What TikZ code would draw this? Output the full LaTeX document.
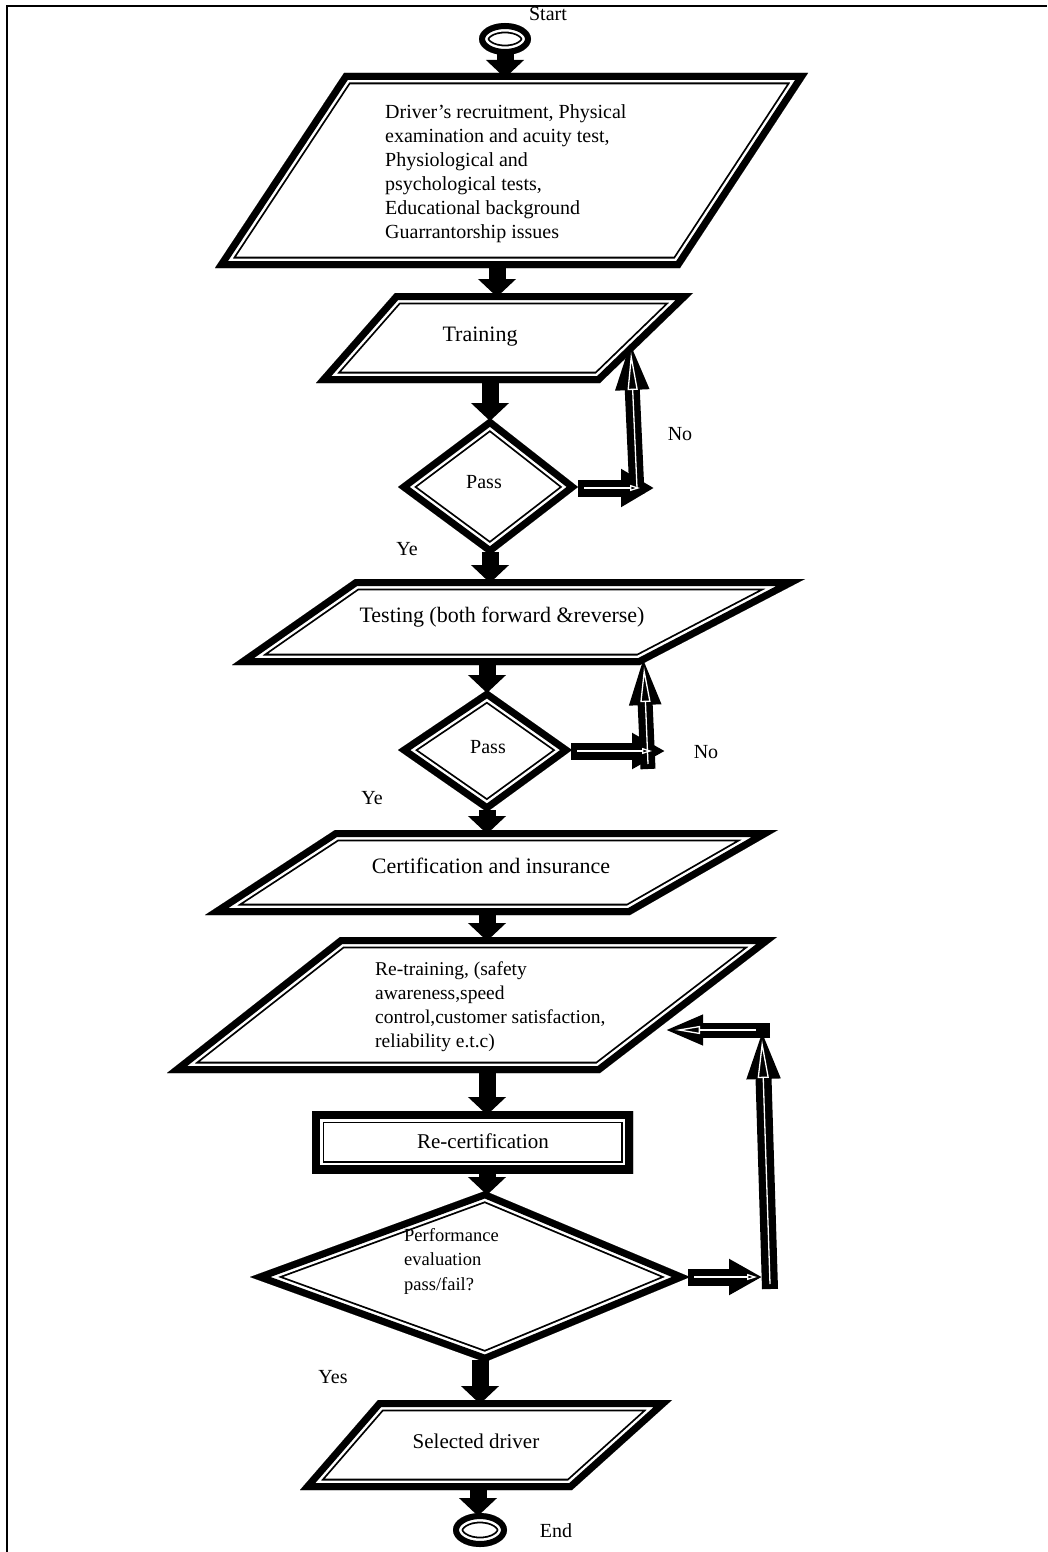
\documentclass[tikz,border=0pt]{standalone}
\usepackage{fontspec}
\setmainfont{Liberation Serif}
\usetikzlibrary{arrows.meta}
\newcommand\dblshape[2][7]{%
  \begin{scope}
    \clip #2;
    \draw[line width={(2*#1+8.6)*1pt}] #2;
    \draw[white,line width={(2*#1+5)*1pt}] #2;
    \draw[line width={2*#1*1pt}] #2;
  \end{scope}}
\begin{document}
\begin{tikzpicture}[x=1pt,y=-1pt,
  downarr/.style={line width=17pt,-{Triangle[length=18pt,width=37pt]}},
  holarr/.style n args={3}{line width=#1,-{Triangle[length=#2,width=#3]}},
  holin/.style n args={2}{white,line width=1.3pt,-{Triangle[open,length=#1,width=#2]}},
  lbl/.style={inner sep=0pt,font=\fontsize{20}{24}\selectfont},
  big/.style={inner sep=0pt,font=\fontsize{22}{26}\selectfont},
  blk/.style={inner sep=0pt,align=left,anchor=north west}]
\useasboundingbox (0,0) rectangle (1047,1552);
\draw[line width=1.5pt] (7,1552) -- (7,6) -- (1047,6);

% shapes
\dblshape[6]{(505,39) ellipse [x radius=26pt,y radius=16pt]}
\dblshape{(344,73) -- (808,73) -- (680,268) -- (215,268) -- cycle}
\dblshape{(395,293) -- (693,293) -- (600,383) -- (316,383) -- cycle}
\dblshape{(490,418) -- (578,487) -- (490,555) -- (398,487) -- cycle}
\dblshape{(355,579) -- (805,579) -- (640,665) -- (232,665) -- cycle}
\dblshape{(487,690) -- (572,750) -- (487,812) -- (398,750) -- cycle}
\dblshape{(335,830) -- (778,830) -- (630,915) -- (205,915) -- cycle}
\dblshape{(340,937) -- (777,937) -- (600,1073) -- (167,1073) -- cycle}
\dblshape[8]{(312,1111) rectangle (633,1173)}
\dblshape{(485,1191) -- (690,1277) -- (485,1362) -- (250,1277) -- cycle}
\dblshape{(378,1400) -- (672,1400) -- (572,1490) -- (300,1490) -- cycle}
\dblshape[6]{(480,1530) ellipse [x radius=27pt,y radius=17pt]}

% texts
\node[lbl,anchor=base] (tstart) at (548,21) {Start};
\node[blk,font=\fontsize{20}{24}\selectfont] (t1) at (385,104) {Driver’s recruitment, Physical\\examination and acuity test,\\Physiological and\\psychological tests,\\Educational background\\Guarrantorship issues};
\node[big,anchor=base] (t2) at (480,341) {Training};
\node[lbl,anchor=base] (tp1) at (484,488) {Pass};
\node[lbl,anchor=base] (tno1) at (680,440) {No};
\node[lbl,anchor=base] (tye1) at (407,555) {Ye};
\node[big,anchor=base] (t3) at (502,622) {Testing (both forward \&reverse)};
\node[lbl,anchor=base] (tp2) at (488,753) {Pass};
\node[lbl,anchor=base] (tno2) at (706,758) {No};
\node[lbl,anchor=base] (tye2) at (372,804) {Ye};
\node[big,anchor=base] (t4) at (491,873) {Certification and insurance};
\node[blk,font=\fontsize{19.5}{24}\selectfont] (t5) at (375,962) {Re-training, (safety\\awareness,speed\\control,customer satisfaction,\\reliability e.t.c)};
\node[big,font=\fontsize{21}{25}\selectfont,anchor=base] (t6) at (483,1148) {Re-certification};
\node[blk,font=\fontsize{18.5}{24.5}\selectfont] (t7) at (404,1228) {Performance\\evaluation\\pass/fail?};
\node[lbl,anchor=base] (tyes) at (333,1383) {Yes};
\node[big,font=\fontsize{21}{25}\selectfont,anchor=base] (t8) at (476,1448) {Selected driver};
\node[lbl,anchor=base] (tend) at (556,1537) {End};

% anchor points
\coordinate (c0a) at (505,53);   \coordinate (c0b) at (505,78);
\coordinate (c1a) at (497,266);  \coordinate (c1b) at (497,297);
\coordinate (c2a) at (490,381);  \coordinate (c2b) at (490,421);
\coordinate (c3a) at (490,552);  \coordinate (c3b) at (490,583);
\coordinate (c4a) at (487,663);  \coordinate (c4b) at (487,693);
\coordinate (c5a) at (487,810);  \coordinate (c5b) at (487,834);
\coordinate (c6a) at (487,913);  \coordinate (c6b) at (487,941);
\coordinate (c7a) at (487,1071); \coordinate (c7b) at (487,1115);
\coordinate (c8a) at (487,1171); \coordinate (c8b) at (487,1195);
\coordinate (c9a) at (480,1360); \coordinate (c9b) at (480,1404);
\coordinate (c10a) at (478,1488); \coordinate (c10b) at (478,1516);

% down arrows
\foreach \i in {0,...,10} \draw[downarr] (c\i a) -- (c\i b);

% loop 1
\coordinate (l1a) at (578,488); \coordinate (l1b) at (654,488);
\coordinate (l1c) at (637,494); \coordinate (l1d) at (630,340);
\draw[holarr={17pt}{33pt}{36pt}] (l1a) -- (l1b);
\draw[holarr={15pt}{50pt}{30pt}] (l1c) -- (l1d);
\coordinate (l1ai) at (584,488); \coordinate (l1bi) at (640,488);
\coordinate (l1ci) at (637,488); \coordinate (l1di) at (631,352);
\draw[holin={10pt}{6pt}] (l1ai) -- (l1bi);
\draw[holin={38pt}{10pt}] (l1ci) -- (l1di);

% loop 2
\coordinate (l2a) at (571,751); \coordinate (l2b) at (665,751);
\coordinate (l2c) at (648,769); \coordinate (l2d) at (643,655);
\draw[holarr={17pt}{33pt}{34pt}] (l2a) -- (l2b);
\draw[holarr={15pt}{50pt}{28pt}] (l2c) -- (l2d);
\coordinate (l2ai) at (577,751); \coordinate (l2bi) at (652,751);
\coordinate (l2ci) at (648,764); \coordinate (l2di) at (644,667);
\draw[holin={10pt}{6pt}] (l2ai) -- (l2bi);
\draw[holin={35pt}{10pt}] (l2ci) -- (l2di);

% loop 3
\coordinate (l3a) at (688,1277); \coordinate (l3b) at (762,1277);
\coordinate (l3c) at (770,1289); \coordinate (l3d) at (762,1029);
\coordinate (l3e) at (770,1030); \coordinate (l3f) at (665,1030);
\draw[holarr={17pt}{33pt}{34pt}] (l3a) -- (l3b);
\draw[holarr={15pt}{38pt}{28pt}] (l3e) -- (l3f);
\draw[holarr={16pt}{50pt}{30pt}] (l3c) -- (l3d);
\coordinate (l3ai) at (694,1277); \coordinate (l3bi) at (757,1277);
\coordinate (l3ci) at (770,1284); \coordinate (l3di) at (762,1040);
\coordinate (l3ei) at (756,1030); \coordinate (l3fi) at (675,1030);
\draw[holin={10pt}{6pt}] (l3ai) -- (l3bi);
\draw[holin={38pt}{11pt}] (l3ci) -- (l3di);
\draw[holin={25pt}{8pt}] (l3ei) -- (l3fi);
\end{tikzpicture}
\end{document}
